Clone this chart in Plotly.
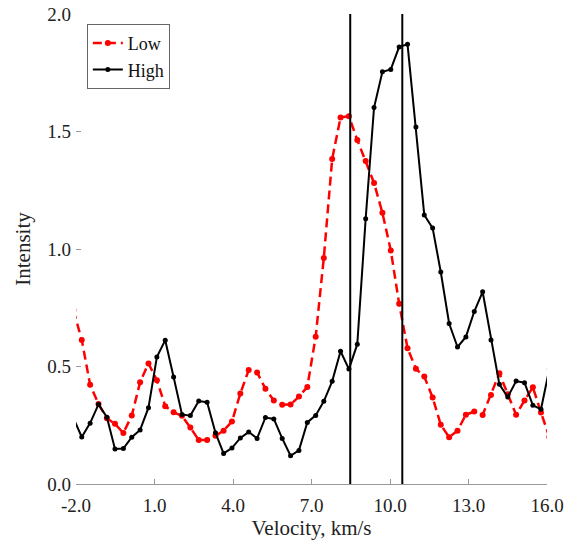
import plotly.graph_objects as go

velocity = [-2.10, -1.78, -1.46, -1.14, -0.82, -0.51, -0.19, 0.13, 0.45, 0.77,
            1.09, 1.41, 1.73, 2.05, 2.37, 2.69, 3.01, 3.33, 3.64, 3.96,
            4.28, 4.60, 4.92, 5.24, 5.56, 5.88, 6.20, 6.52, 6.84, 7.16,
            7.47, 7.79, 8.11, 8.43, 8.75, 9.07, 9.39, 9.71, 10.03, 10.35,
            10.67, 10.99, 11.31, 11.63, 11.94, 12.26, 12.58, 12.90, 13.22, 13.54,
            13.86, 14.18, 14.50, 14.82, 15.14, 15.46, 15.77, 16.09]

low = [0.74, 0.613, 0.422, 0.34, 0.28, 0.256, 0.217, 0.291, 0.433, 0.513,
       0.442, 0.331, 0.305, 0.29, 0.24, 0.187, 0.187, 0.205, 0.227, 0.266,
       0.385, 0.485, 0.475, 0.405, 0.355, 0.337, 0.338, 0.372, 0.413, 0.627,
       0.962, 1.383, 1.56, 1.565, 1.464, 1.374, 1.281, 1.154, 0.994, 0.767,
       0.578, 0.490, 0.457, 0.368, 0.252, 0.199, 0.227, 0.295, 0.308, 0.294,
       0.379, 0.471, 0.382, 0.295, 0.355, 0.412, 0.304, 0.20]

high = [0.28, 0.200, 0.259, 0.339, 0.284, 0.149, 0.151, 0.199, 0.230, 0.325,
        0.540, 0.612, 0.455, 0.296, 0.291, 0.353, 0.348, 0.218, 0.130, 0.153,
        0.196, 0.221, 0.194, 0.283, 0.277, 0.194, 0.120, 0.143, 0.262, 0.292,
        0.352, 0.437, 0.565, 0.489, 0.595, 1.129, 1.602, 1.754, 1.764, 1.860,
        1.871, 1.519, 1.145, 1.089, 0.902, 0.683, 0.583, 0.626, 0.734, 0.818,
        0.613, 0.424, 0.370, 0.438, 0.431, 0.335, 0.318, 0.49]

x_ticks = [-2, 1, 4, 7, 10, 13, 16]
x_tick_labels = ["-2.0", "1.0", "4.0", "7.0", "10.0", "13.0", "16.0"]
y_ticks = [0.0, 0.5, 1.0, 1.5, 2.0]
y_tick_labels = ["0.0", "0.5", "1.0", "1.5", "2.0"]
marker_lines = [8.48, 10.47]

FONT = "Liberation Serif"

fig = go.Figure()
fig.add_trace(go.Scatter(
    x=velocity, y=low, name="Low", mode="lines+markers",
    line=dict(color="#ff0000", width=2.5, dash="9px,5px"),
    marker=dict(color="#ff0000", size=6),
))
fig.add_trace(go.Scatter(
    x=velocity, y=high, name="High", mode="lines+markers",
    line=dict(color="#000000", width=2),
    marker=dict(color="#000000", size=5),
))

for v in marker_lines:
    fig.add_shape(type="line", x0=v, x1=v, xref="x", y0=0, y1=1, yref="paper",
                  line=dict(color="black", width=2))

fig.update_layout(
    width=566, height=544,
    margin=dict(l=76, r=19, t=14, b=60, autoexpand=False),
    paper_bgcolor="white", plot_bgcolor="white",
    font=dict(family=FONT, size=19, color="#222"),
    showlegend=True,
    legend=dict(x=0.023, y=0.979, xanchor="left", yanchor="top",
                bordercolor="#666", borderwidth=1, bgcolor="white",
                font=dict(family=FONT, size=18, color="#111"),
                tracegroupgap=0, itemwidth=30),
    xaxis=dict(range=[-2, 16], tickvals=x_ticks, ticktext=x_tick_labels,
               automargin=False, ticklabeloverflow="allow",
               showgrid=False, zeroline=False, showline=True,
               linecolor="#999", linewidth=1, ticks="inside", ticklen=5,
               tickcolor="#999", ticklabelstandoff=4,
               title=dict(text="Velocity, km/s", font=dict(size=21), standoff=4)),
    yaxis=dict(range=[0, 2], tickvals=y_ticks, ticktext=y_tick_labels,
               automargin=False, ticklabeloverflow="allow",
               showgrid=False, zeroline=False, showline=False,
               ticks="inside", ticklen=5, tickcolor="#999", ticklabelstandoff=4,
               title=dict(text="Intensity", font=dict(size=21), standoff=10)),
)

fig.write_html(
    "out.html",
    config={"displayModeBar": False},
    post_script="document.body.style.margin='0';document.body.style.overflow='hidden';",
)
